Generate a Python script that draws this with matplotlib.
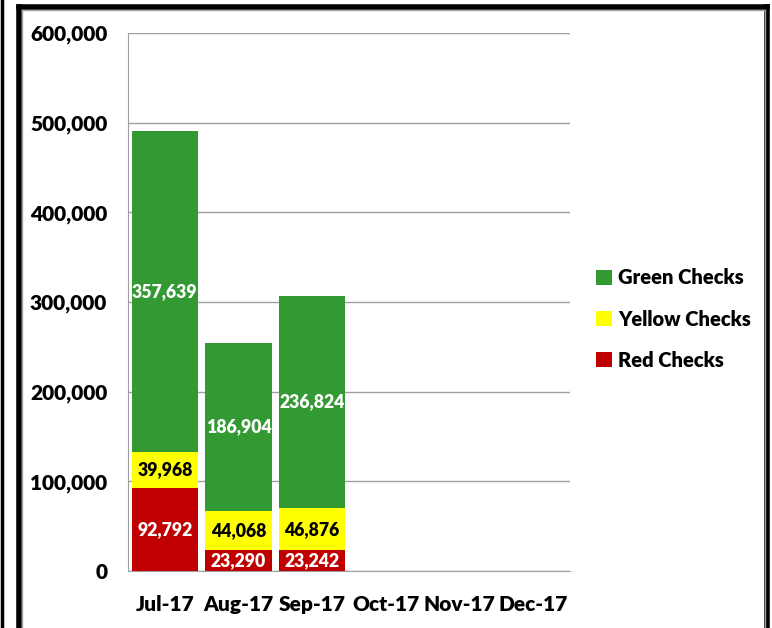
import matplotlib
matplotlib.use("Agg")
import matplotlib.pyplot as plt
from matplotlib.lines import Line2D
from matplotlib.ticker import FuncFormatter

months = ["Jul-17", "Aug-17", "Sep-17", "Oct-17", "Nov-17", "Dec-17"]
red = [92792, 23290, 23242, 0, 0, 0]
yellow = [39968, 44068, 46876, 0, 0, 0]
green = [357639, 186904, 236824, 0, 0, 0]
n_data = 3

plt.rcParams['font.family'] = ['Lato', 'DejaVu Sans']
WT = "heavy"

W, H = 772, 628
fig = plt.figure(figsize=(W/100, H/100), dpi=100)
ax = fig.add_axes([128/W, 1-571/H, (570-128)/W, (571-33)/H])

x = list(range(len(months)))
c_red, c_yel, c_grn = "#C00000", "#FFFF00", "#339933"
bottom2 = [r + y for r, y in zip(red, yellow)]
b1 = ax.bar(x, red, width=0.9, color=c_red, label="Red Checks", zorder=3)
b2 = ax.bar(x, yellow, width=0.9, bottom=red, color=c_yel, label="Yellow Checks", zorder=3)
b3 = ax.bar(x, green, width=0.9, bottom=bottom2, color=c_grn, label="Green Checks", zorder=3)

LS = 12.7
for i in range(n_data):
    ax.text(i, red[i]/2, f"{red[i]:,}", ha="center", va="center", color="white",
            fontsize=LS, fontweight=WT, zorder=4)
    ax.text(i, red[i] + yellow[i]/2, f"{yellow[i]:,}", ha="center", va="center", color="black",
            fontsize=LS, fontweight=WT, zorder=4)
    ax.text(i, bottom2[i] + green[i]/2, f"{green[i]:,}", ha="center", va="center", color="white",
            fontsize=LS, fontweight=WT, zorder=4)

ax.set_xlim(-0.5, len(months)-0.5)
ax.set_ylim(0, 600000)
ax.set_yticks(range(0, 600001, 100000))
ax.yaxis.set_major_formatter(FuncFormatter(lambda v, p: f"{int(v):,}"))
ax.set_xticks(x)
ax.set_xticklabels(months)
ax.grid(axis="y", color="#A0A0A0", linewidth=1, zorder=0)
for s in ["top", "right"]:
    ax.spines[s].set_visible(False)
for s in ["left", "bottom"]:
    ax.spines[s].set_color("#A0A0A0")
ax.tick_params(axis="both", length=0, labelsize=15)
ax.tick_params(axis="y", pad=15)
ax.tick_params(axis="x", pad=17)
for lab in ax.get_xticklabels() + ax.get_yticklabels():
    lab.set_fontweight(WT)

handles = [b3, b2, b1]
leg = fig.legend(handles, [h.get_label() for h in handles], loc="center left",
                 bbox_to_anchor=(578/W, 1-319/H), frameon=False,
                 prop={"size": 14.5, "weight": WT}, handlelength=0.78,
                 handleheight=0.78, handletextpad=0.3, labelspacing=1.1)

# frame decorations
fig.add_artist(Line2D([1.5/W, 1.5/W], [0, 1], color="black", linewidth=2.5, transform=fig.transFigure))
fig.add_artist(Line2D([18.5/W, 18.5/W], [0, 1-6.5/H], color="black", linewidth=4, transform=fig.transFigure))
fig.add_artist(Line2D([18.5/W, 767/W], [1-6.5/H, 1-6.5/H], color="black", linewidth=4, transform=fig.transFigure))
fig.add_artist(Line2D([767/W, 767/W], [0, 1-6.5/H], color="black", linewidth=4, transform=fig.transFigure))
fig.add_artist(Line2D([21.5/W, 764.5/W], [1-9.5/H, 1-9.5/H], color="#A0A0A0", linewidth=1, transform=fig.transFigure))
fig.add_artist(Line2D([21.5/W, 21.5/W], [0, 1-9.5/H], color="#A0A0A0", linewidth=1, transform=fig.transFigure))
fig.add_artist(Line2D([764.5/W, 764.5/W], [0, 1-9.5/H], color="#A0A0A0", linewidth=1, transform=fig.transFigure))

fig.savefig("out.png", dpi=100)
